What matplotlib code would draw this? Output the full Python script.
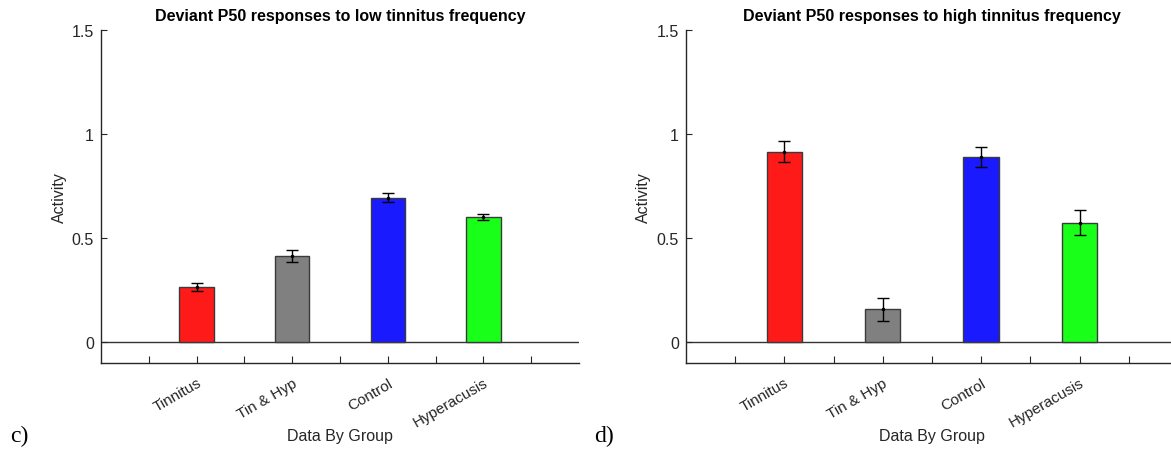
import numpy as np
import matplotlib
matplotlib.use("Agg")
import matplotlib.pyplot as plt

plt.rcParams['font.family'] = ['Liberation Sans', 'DejaVu Sans']

groups = ["Tinnitus", "Tin & Hyp", "Control", "Hyperacusis"]
colors = ["#ff1a1a", "#808080", "#1a1aff", "#1aff1a"]

low_mean = [0.264, 0.416, 0.695, 0.602]
low_err = [0.019, 0.029, 0.022, 0.016]
high_mean = [0.915, 0.158, 0.890, 0.575]
high_err = [0.050, 0.054, 0.050, 0.062]

titles = ["Deviant P50 responses to low tinnitus frequency",
          "Deviant P50 responses to high tinnitus frequency"]
panel_tags = ["c)", "d)"]

fig = plt.figure(figsize=(11.71, 4.52), dpi=100)
axes = [fig.add_axes([0.0863, 0.1947, 0.4082, 0.7367]),
        fig.add_axes([0.5858, 0.1947, 0.4201, 0.7367])]

dark = "#262626"
for ax, means, errs, title in zip(axes, [low_mean, high_mean], [low_err, high_err], titles):
    x = np.arange(1, len(groups) + 1)
    ax.bar(x, means, width=0.36, color=colors, edgecolor="#3a3a3a", linewidth=1.0, zorder=2)
    ax.errorbar(x, means, yerr=errs, fmt='.', color='black', markersize=3,
                capsize=4, elinewidth=1.0, capthick=1.0, zorder=3)
    ax.axhline(0, color="#333333", linewidth=1.0, zorder=1)
    ax.set_xlim(0, 5)
    ax.set_ylim(-0.1, 1.5)
    ax.set_yticks([0, 0.5, 1, 1.5])
    ax.set_yticklabels(["0", "0.5", "1", "1.5"])
    ax.set_xticks(np.arange(0.5, 5, 0.5))
    ax.set_xticklabels(["" if v % 1 else groups[int(v) - 1] for v in np.arange(0.5, 5, 0.5)],
                       rotation=30, ha='right', rotation_mode='anchor')
    ax.tick_params(axis='both', direction='in', colors=dark, width=0.8)
    ax.tick_params(axis='x', length=5, pad=9, labelsize=11)
    ax.tick_params(axis='y', length=4, pad=5, labelsize=11.5)
    for s in ["top", "right"]:
        ax.spines[s].set_visible(False)
    for s in ["left", "bottom"]:
        ax.spines[s].set_color(dark)
        ax.spines[s].set_linewidth(1.0)
    ax.set_title(title, fontsize=11.5, fontweight='bold', pad=7)
    ax.text(0.5, -0.219, "Data By Group", transform=ax.transAxes, ha='center', va='center',
            fontsize=11.5, color=dark)
    ax.text(-0.086, 0.5, "Activity", transform=ax.transAxes, ha='center', va='center',
            rotation=90, fontsize=11.5, color=dark)

fig.text(0.009, 0.035, panel_tags[0], family='Liberation Serif', fontsize=17, va='center')
fig.text(0.507, 0.035, panel_tags[1], family='Liberation Serif', fontsize=17, va='center')

fig.savefig("out.png", dpi=100)
